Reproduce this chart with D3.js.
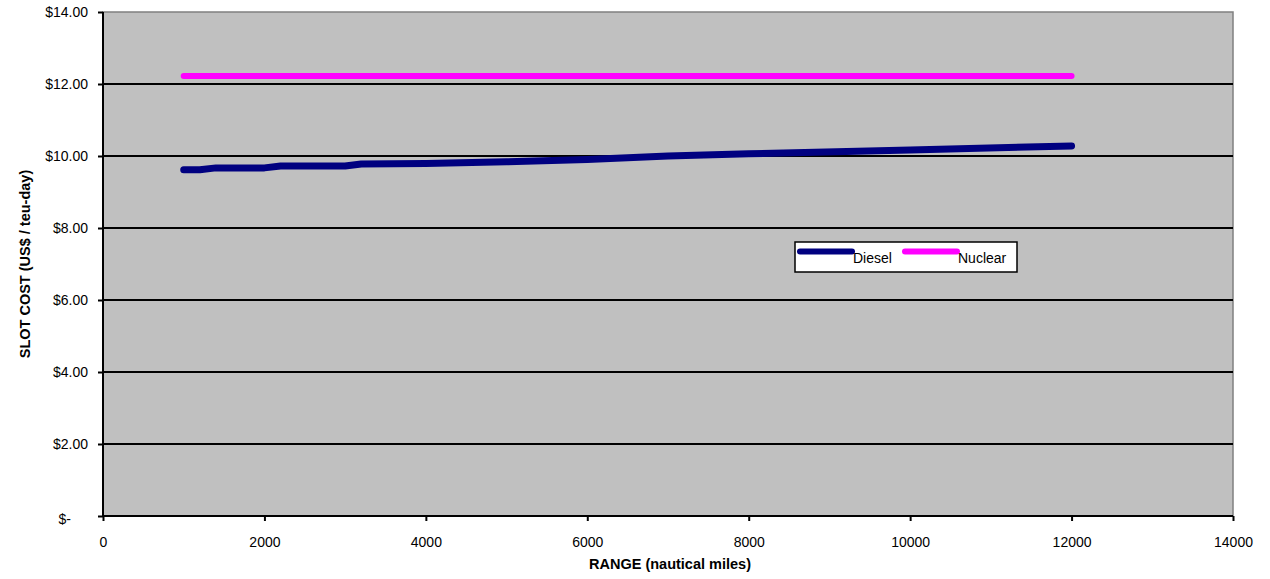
<!DOCTYPE html>
<html>
<head>
<meta charset="utf-8">
<script src="https://cdn.jsdelivr.net/npm/d3@7"></script>
<style>
body { margin: 0; background: #fff; }
text { font-family: "Liberation Sans", Arial, sans-serif; }
</style>
</head>
<body>
<div id="chart"></div>
<script>
// data
var range = [1000, 1200, 1400, 2000, 2200, 3000, 3200, 4000, 5000, 6000, 7000, 8000, 10000, 12000];
var diesel = [9.62, 9.62, 9.67, 9.67, 9.72, 9.72, 9.78, 9.79, 9.84, 9.90, 10.00, 10.06, 10.17, 10.28];
var nuclear = [12.22, 12.22, 12.22, 12.22, 12.22, 12.22, 12.22, 12.22, 12.22, 12.22, 12.22, 12.22, 12.22, 12.22];
var xTicks = [0, 2000, 4000, 6000, 8000, 10000, 12000, 14000];
var yTicks = [0, 2, 4, 6, 8, 10, 12, 14];
var seriesNames = ['Diesel', 'Nuclear'];
var seriesColors = ['#000080', '#ff00ff'];

var W = 1270, H = 579;
var margin = {t: 12, r: 37, b: 63, l: 103};
var width = W - margin.l - margin.r,
    height = H - margin.t - margin.b;

var svg = d3.select('#chart').append('svg')
    .attr('width', W)
    .attr('height', H);

var g = svg.append('g').attr('transform', 'translate(' + margin.l + ',' + margin.t + ')');

var x = d3.scaleLinear().domain([0, 14000]).range([0, width]);
var y = d3.scaleLinear().domain([0, 14]).range([height, 0]);

// plot background
g.append('rect')
    .attr('width', width)
    .attr('height', height)
    .attr('fill', '#c0c0c0')
    .attr('stroke', '#808080')
    .attr('stroke-width', 1.5);

// gridlines
g.selectAll('.grid')
    .data(yTicks.slice(1, -1))
    .enter()
    .append('line')
    .attr('x1', 0).attr('x2', width)
    .attr('y1', function(d){return y(d)})
    .attr('y2', function(d){return y(d)})
    .attr('stroke', '#000')
    .attr('stroke-width', 2);

// axes
var xAxis = d3.axisBottom(x).tickValues(xTicks).tickSize(5).tickPadding(16).tickFormat(d3.format('d'));
var yAxis = d3.axisLeft(y).tickValues(yTicks).tickSize(5).tickPadding(10)
    .tickFormat(function(d){return d === 0 ? '$-' : '$' + d3.format('.2f')(d)});

var gx = g.append('g').attr('transform', 'translate(0,' + height + ')').call(xAxis);
var gy = g.append('g').call(yAxis);

[gx, gy].forEach(function(a){
    a.select('.domain').attr('stroke', '#000').attr('stroke-width', 2);
    a.selectAll('.tick line').attr('stroke', '#000').attr('stroke-width', 2);
    a.selectAll('.tick text').attr('font-size', 14).attr('fill', '#000')
        .style('font-family', '"Liberation Sans", Arial, sans-serif');
});
gy.select('.domain').attr('d', 'M0,0V' + height);
gx.select('.domain').attr('d', 'M0,0H' + width);
gy.selectAll('.tick text').filter(function(d){return d === 0})
    .attr('x', -32).attr('dy', '0.55em');
gy.selectAll('.tick text').filter(function(d){return d !== 0})
    .attr('dy', '0.3em');

// lines
var line = d3.line()
    .x(function(d){return x(d[0])})
    .y(function(d){return y(d[1])});

g.append('path')
    .datum(range.map(function(r, i){return [r, nuclear[i]]}))
    .attr('d', line)
    .attr('fill', 'none')
    .attr('stroke', seriesColors[1])
    .attr('stroke-width', 6)
    .attr('stroke-linecap', 'round')
    .attr('stroke-linejoin', 'round');

g.append('path')
    .datum(range.map(function(r, i){return [r, diesel[i]]}))
    .attr('d', line)
    .attr('fill', 'none')
    .attr('stroke', seriesColors[0])
    .attr('stroke-width', 7)
    .attr('stroke-linecap', 'round')
    .attr('stroke-linejoin', 'round');

// legend
var leg = svg.append('g').attr('transform', 'translate(795,242)');
leg.append('rect')
    .attr('width', 222).attr('height', 30)
    .attr('fill', '#fff').attr('stroke', '#000').attr('stroke-width', 1.5);
var items = leg.selectAll('.item')
    .data(seriesNames)
    .enter()
    .append('g')
    .attr('transform', function(d, i){return 'translate(' + (5 + i * 105) + ',0)'});
items.append('line')
    .attr('x1', 0).attr('x2', 52)
    .attr('y1', 9.5).attr('y2', 9.5)
    .attr('stroke', function(d, i){return seriesColors[i]})
    .attr('stroke-width', 6)
    .attr('stroke-linecap', 'round');
items.append('text')
    .attr('x', 53).attr('y', 21)
    .attr('font-size', 14)
    .text(function(d){return d});

// axis titles
svg.append('text')
    .attr('x', margin.l + width / 2 + 2)
    .attr('y', 569)
    .attr('text-anchor', 'middle')
    .attr('font-size', 14.5)
    .attr('font-weight', 'bold')
    .text('RANGE (nautical miles)');

svg.append('text')
    .attr('transform', 'translate(30,' + (margin.t + height / 2) + ') rotate(-90)')
    .attr('text-anchor', 'middle')
    .attr('font-size', 14.5)
    .attr('font-weight', 'bold')
    .text('SLOT COST (US$ / teu-day)');
</script>
</body>
</html>
